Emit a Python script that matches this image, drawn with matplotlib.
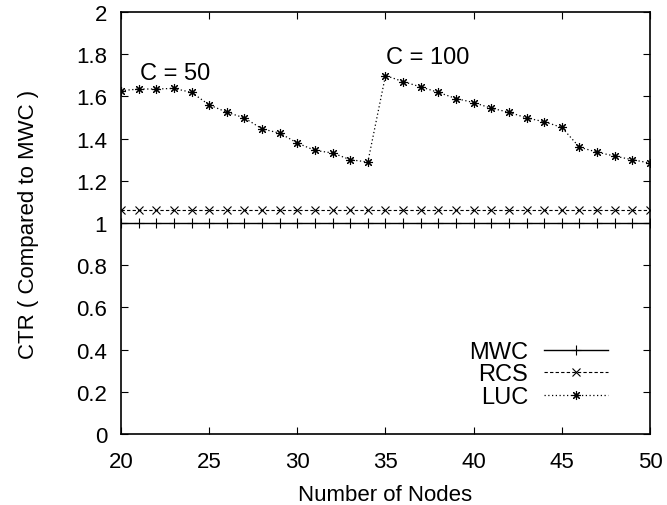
import matplotlib
matplotlib.use("Agg")
import matplotlib.pyplot as plt

plt.rcParams["font.family"] = ["Liberation Sans", "DejaVu Sans"]

# ==============================
# Data
# ==============================

nodes = list(range(20, 51))

mwc = [1.0] * len(nodes)

rcs = [1.062] * len(nodes)

luc = [
    1.627, 1.635, 1.635, 1.638, 1.619, 1.560, 1.525, 1.498, 1.446, 1.426,
    1.379, 1.344, 1.332, 1.300, 1.289,
    1.699, 1.670, 1.645, 1.619, 1.590, 1.571, 1.544, 1.525, 1.498, 1.480,
    1.453, 1.359, 1.336, 1.317, 1.300, 1.284,
]

yticks = [0, 0.2, 0.4, 0.6, 0.8, 1, 1.2, 1.4, 1.6, 1.8, 2]
ytick_labels = ["0", "0.2", "0.4", "0.6", "0.8", "1", "1.2", "1.4", "1.6", "1.8", "2"]
xticks = [20, 25, 30, 35, 40, 45, 50]

# ==============================
# Plot
# ==============================

fig = plt.figure(figsize=(6.67, 5.06), dpi=100)
ax = fig.add_axes([0.1814, 0.1403, 0.7931, 0.834])

ax.plot(nodes, mwc, color="black", linestyle="-", linewidth=1.0,
        marker="+", markersize=6.5, markeredgewidth=0.8, label="MWC")
ax.plot(nodes, rcs, color="black", linestyle=(0, (3, 2)), linewidth=0.8,
        marker="x", markersize=5.5, markeredgewidth=0.8, label="RCS")
ax.plot(nodes, luc, color="black", linestyle=(0, (1, 2)), linewidth=0.9,
        marker=(8, 2, 0), markersize=6.5, markeredgewidth=0.8, label="LUC")

ax.text(21.1, 1.713, "C = 50", fontsize=17, va="center", ha="left")
ax.text(35.05, 1.785, "C = 100", fontsize=17, va="center", ha="left")

ax.set_xlim(20, 50)
ax.set_ylim(0, 2)
ax.set_xticks(xticks)
ax.set_yticks(yticks)
ax.set_yticklabels(ytick_labels)

ax.tick_params(direction="in", length=5, width=0.8, labelsize=16,
               top=True, right=True)
ax.tick_params(axis="x", pad=12)
ax.tick_params(axis="y", pad=10)
for spine in ax.spines.values():
    spine.set_linewidth(1.2)

ax.set_xlabel("Number of Nodes", fontsize=16, labelpad=9)
ax.set_ylabel("CTR ( Compared to MWC )", fontsize=16, labelpad=27)

ax.legend(loc="lower right", bbox_to_anchor=(0.943, 0.034), frameon=False,
          markerfirst=False, fontsize=17, handlelength=2.7,
          handletextpad=0.68, labelspacing=0.02, borderpad=0)

plt.savefig("out.png", dpi=100)
